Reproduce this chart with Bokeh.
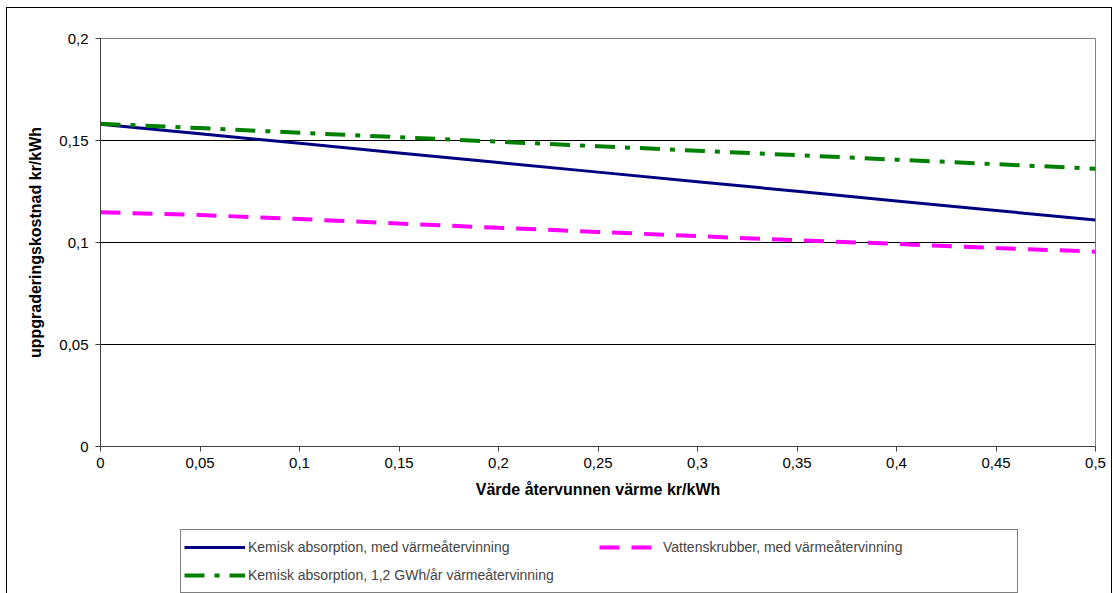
from bokeh.plotting import figure
from bokeh.layouts import column
from bokeh.models import Legend, LegendItem, SingleIntervalTicker, CustomJSTickFormatter, Range1d
from bokeh.embed import file_html
from bokeh.resources import INLINE

x_vals = [0.0, 0.05, 0.1, 0.15, 0.2, 0.25, 0.3, 0.35, 0.4, 0.45, 0.5]
kemisk_med = [0.158, 0.1533, 0.1486, 0.1439, 0.1392, 0.1345, 0.1298, 0.1251, 0.1204, 0.1157, 0.111]
vatten_med = [0.1148, 0.1135, 0.1115, 0.1093, 0.1072, 0.1052, 0.1031, 0.1011, 0.0993, 0.0973, 0.0955]
kemisk_12 = [0.1582, 0.1561, 0.1538, 0.1516, 0.1494, 0.1472, 0.1450, 0.1428, 0.1406, 0.1384, 0.1362]

series_labels = ["Kemisk absorption, med värmeåtervinning",
                 "Vattenskrubber, med värmeåtervinning",
                 "Kemisk absorption, 1,2 GWh/år värmeåtervinning"]
x_title = "Värde återvunnen värme kr/kWh"
y_title = "uppgraderingskostnad kr/kWh"

FONT = "Liberation Sans"
COLORS = ["#000080", "#FF00FF", "#008000"]
WIDTHS = [3, 4, 4]
DASHES = ["solid", "20 12", "20 10 5 10"]
series = [kemisk_med, vatten_med, kemisk_12]

# ---- main chart ----
p = figure(width=1104, height=515, output_backend="svg", toolbar_location=None,
           x_range=Range1d(0, 0.5), y_range=Range1d(0, 0.2),
           min_border_left=93, min_border_right=16, min_border_top=30, min_border_bottom=77)
p.xgrid.visible = False
p.ygrid.grid_line_color = "#000000"
p.ygrid.grid_line_width = 1
p.outline_line_color = "#808080"
p.outline_line_width = 1

fmt = CustomJSTickFormatter(code="return (tick === 0) ? '0' : String(Math.round(tick*100)/100).replace('.', ',');")
p.xaxis.ticker = SingleIntervalTicker(interval=0.05)
p.yaxis.ticker = SingleIntervalTicker(interval=0.05)
for ax in (p.xaxis[0], p.yaxis[0]):
    ax.formatter = fmt
    ax.major_label_text_font = FONT
    ax.major_label_text_font_size = "15px"
    ax.major_label_text_color = "#000000"
    ax.axis_line_color = "#404040"
    ax.major_tick_line_color = "#404040"
    ax.major_tick_out = 5
    ax.major_tick_in = 0
    ax.minor_tick_out = 0
    ax.minor_tick_in = 0
    ax.axis_label_text_font = FONT
    ax.axis_label_text_font_style = "bold"
    ax.axis_label_text_font_size = "16px"
    ax.axis_label_text_color = "#000000"
p.xaxis.axis_label = x_title
p.yaxis.axis_label = y_title
p.xaxis.major_label_standoff = 6
p.xaxis.axis_label_standoff = 10
p.yaxis.major_label_standoff = 7
p.yaxis.axis_label_standoff = 12

for ys, c, w, d in zip(series, COLORS, WIDTHS, DASHES):
    p.line(x_vals, ys, line_color=c, line_width=w, line_dash=d)

# ---- legend strip ----
lg = figure(width=1104, height=70, output_backend="svg", toolbar_location=None,
            x_range=Range1d(10, 11), y_range=Range1d(10, 11),
            min_border_left=0, min_border_right=0, min_border_top=0, min_border_bottom=0)
lg.axis.visible = False
lg.grid.visible = False
lg.outline_line_color = None
rs = []
for ys, c, w, d in zip(series, COLORS, WIDTHS, DASHES):
    rs.append(lg.line(x_vals, ys, line_color=c, line_width=w, line_dash=d))

legend = Legend(items=[LegendItem(label=lab, renderers=[r]) for lab, r in zip(series_labels, rs)],
                ncols=2, orientation="horizontal",
                location=(80, 0), glyph_width=61, glyph_height=28,
                label_width=351, label_standoff=3, spacing=0, padding=3, margin=0,
                label_text_font=FONT, label_text_font_size="14px",
                border_line_color="#000000", border_line_width=1,
                background_fill_alpha=1)
lg.add_layout(legend, "center")

layout = column(p, lg, spacing=0)
layout.margin = (8, 2, 0, 7)
layout.styles = {"outline": "1px solid #000000"}

open("out.html", "w").write(file_html(layout, INLINE))
